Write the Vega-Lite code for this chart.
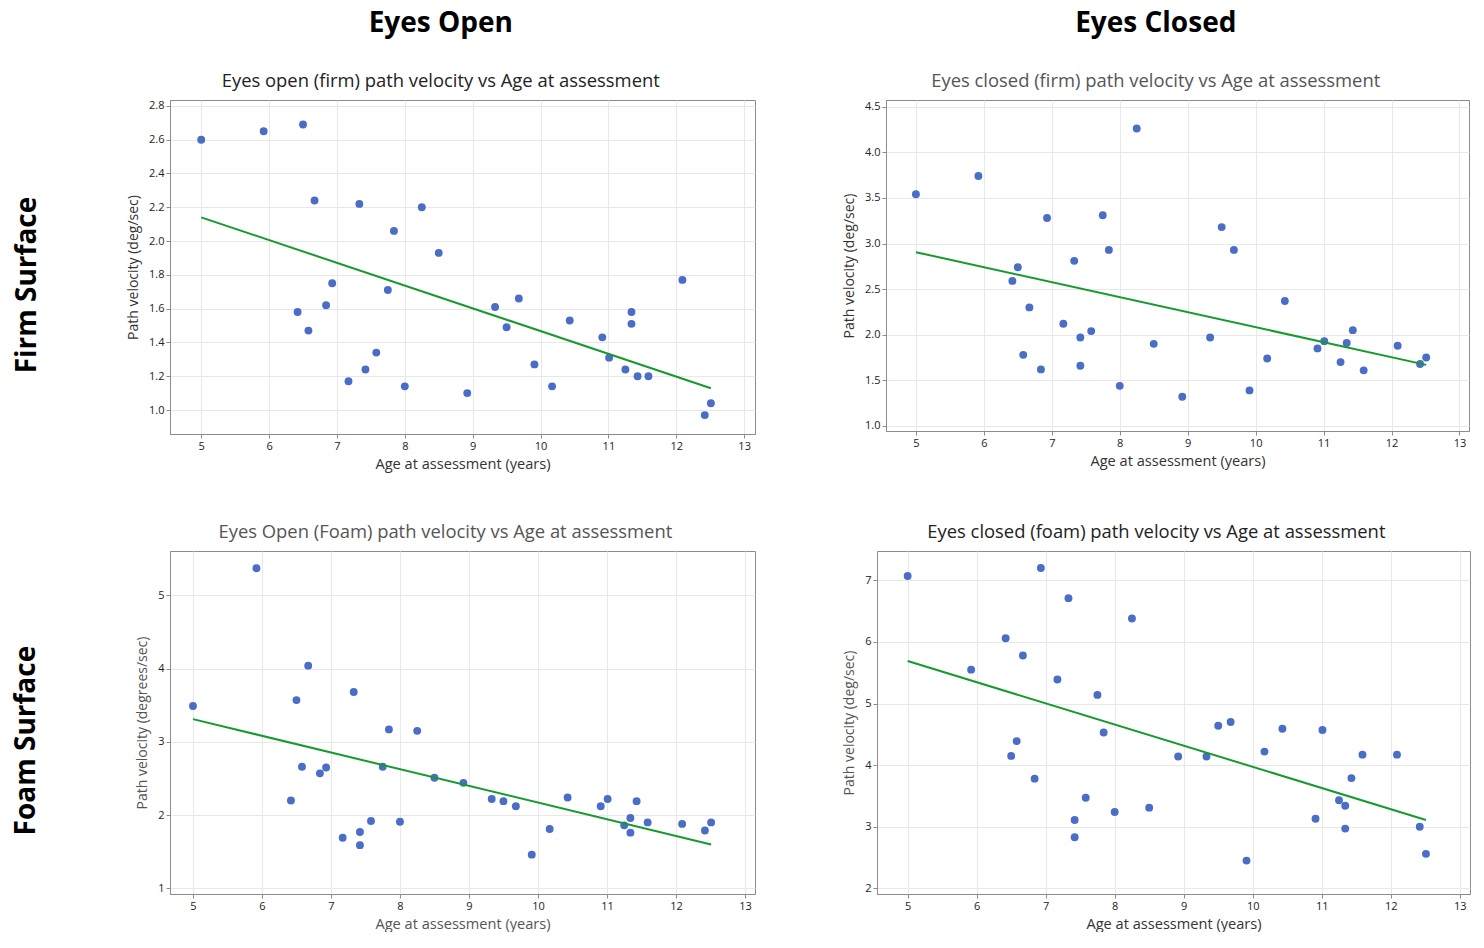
{
 "$schema": "https://vega.github.io/schema/vega-lite/v6.json",
 "background": "white",
 "padding": {"left": 13, "top": 9, "right": 5, "bottom": 0},
 "config": {
  "font": "Open Sans",
  "view": {"stroke": "#8c8c8c", "strokeWidth": 1},
  "axis": {"grid": true, "gridColor": "#e8e8e8", "domainColor": "#8c8c8c", "tickColor": "#8c8c8c", "tickSize": 4, "labelFontSize": 11, "labelColor": "#222222", "labelFont": "Open Sans", "titleFont": "Open Sans", "titleFontSize": 14, "titleFontWeight": "normal", "titleColor": "#333333", "labelPadding": 2, "labelOverlap": false},
  "axisX": {"titlePadding": 5, "titleFontSize": 14.6, "format": "d"},
  "axisY": {"titlePadding": 8}
 },
 "datasets": {
  "p1": [
   {"age": 5.0, "v": 2.60}, {"age": 5.92, "v": 2.65}, {"age": 6.42, "v": 1.58}, {"age": 6.50, "v": 2.69},
   {"age": 6.58, "v": 1.47}, {"age": 6.67, "v": 2.24}, {"age": 6.84, "v": 1.62}, {"age": 6.93, "v": 1.75},
   {"age": 7.17, "v": 1.17}, {"age": 7.33, "v": 2.22}, {"age": 7.42, "v": 1.24}, {"age": 7.58, "v": 1.34},
   {"age": 7.75, "v": 1.71}, {"age": 7.84, "v": 2.06}, {"age": 8.0, "v": 1.14}, {"age": 8.25, "v": 2.20},
   {"age": 8.50, "v": 1.93}, {"age": 8.92, "v": 1.10}, {"age": 9.33, "v": 1.61}, {"age": 9.50, "v": 1.49},
   {"age": 9.68, "v": 1.66}, {"age": 9.91, "v": 1.27}, {"age": 10.17, "v": 1.14}, {"age": 10.43, "v": 1.53},
   {"age": 10.91, "v": 1.43}, {"age": 11.01, "v": 1.31}, {"age": 11.25, "v": 1.24}, {"age": 11.34, "v": 1.58},
   {"age": 11.34, "v": 1.51}, {"age": 11.43, "v": 1.20}, {"age": 11.59, "v": 1.20}, {"age": 12.09, "v": 1.77},
   {"age": 12.42, "v": 0.97}, {"age": 12.51, "v": 1.04}
  ],
  "p2": [
   {"age": 5.0, "v": 3.54}, {"age": 5.92, "v": 3.74}, {"age": 6.42, "v": 2.59}, {"age": 6.50, "v": 2.74},
   {"age": 6.58, "v": 1.78}, {"age": 6.67, "v": 2.30}, {"age": 6.84, "v": 1.62}, {"age": 6.93, "v": 3.28},
   {"age": 7.17, "v": 2.12}, {"age": 7.33, "v": 2.81}, {"age": 7.42, "v": 1.97}, {"age": 7.42, "v": 1.66},
   {"age": 7.58, "v": 2.04}, {"age": 7.75, "v": 3.31}, {"age": 7.84, "v": 2.93}, {"age": 8.0, "v": 1.44},
   {"age": 8.25, "v": 4.26}, {"age": 8.50, "v": 1.90}, {"age": 8.92, "v": 1.32}, {"age": 9.33, "v": 1.97},
   {"age": 9.50, "v": 3.18}, {"age": 9.68, "v": 2.93}, {"age": 9.91, "v": 1.39}, {"age": 10.17, "v": 1.74},
   {"age": 10.43, "v": 2.37}, {"age": 10.91, "v": 1.85}, {"age": 11.01, "v": 1.93}, {"age": 11.25, "v": 1.70},
   {"age": 11.34, "v": 1.91}, {"age": 11.43, "v": 2.05}, {"age": 11.59, "v": 1.61}, {"age": 12.09, "v": 1.88},
   {"age": 12.42, "v": 1.68}, {"age": 12.51, "v": 1.75}
  ],
  "p3": [
   {"age": 5.0, "v": 3.49}, {"age": 5.92, "v": 5.37}, {"age": 6.42, "v": 2.20}, {"age": 6.50, "v": 3.57},
   {"age": 6.58, "v": 2.66}, {"age": 6.67, "v": 4.04}, {"age": 6.84, "v": 2.57}, {"age": 6.93, "v": 2.65},
   {"age": 7.17, "v": 1.69}, {"age": 7.33, "v": 3.68}, {"age": 7.42, "v": 1.77}, {"age": 7.42, "v": 1.59},
   {"age": 7.58, "v": 1.92}, {"age": 7.75, "v": 2.66}, {"age": 7.84, "v": 3.17}, {"age": 8.0, "v": 1.91},
   {"age": 8.25, "v": 3.15}, {"age": 8.50, "v": 2.51}, {"age": 8.92, "v": 2.44}, {"age": 9.33, "v": 2.22},
   {"age": 9.50, "v": 2.19}, {"age": 9.68, "v": 2.12}, {"age": 9.91, "v": 1.46}, {"age": 10.17, "v": 1.81},
   {"age": 10.43, "v": 2.24}, {"age": 10.91, "v": 2.12}, {"age": 11.01, "v": 2.22}, {"age": 11.25, "v": 1.86},
   {"age": 11.34, "v": 1.96}, {"age": 11.34, "v": 1.76}, {"age": 11.43, "v": 2.19}, {"age": 11.59, "v": 1.90},
   {"age": 12.09, "v": 1.88}, {"age": 12.42, "v": 1.79}, {"age": 12.51, "v": 1.90}
  ],
  "p4": [
   {"age": 5.0, "v": 7.07}, {"age": 5.92, "v": 5.55}, {"age": 6.42, "v": 6.06}, {"age": 6.50, "v": 4.15},
   {"age": 6.58, "v": 4.39}, {"age": 6.67, "v": 5.78}, {"age": 6.84, "v": 3.78}, {"age": 6.93, "v": 7.20},
   {"age": 7.17, "v": 5.39}, {"age": 7.33, "v": 6.71}, {"age": 7.42, "v": 3.11}, {"age": 7.42, "v": 2.83},
   {"age": 7.58, "v": 3.47}, {"age": 7.75, "v": 5.14}, {"age": 7.84, "v": 4.53}, {"age": 8.0, "v": 3.24},
   {"age": 8.25, "v": 6.38}, {"age": 8.50, "v": 3.31}, {"age": 8.92, "v": 4.14}, {"age": 9.33, "v": 4.14},
   {"age": 9.50, "v": 4.64}, {"age": 9.68, "v": 4.70}, {"age": 9.91, "v": 2.45}, {"age": 10.17, "v": 4.22},
   {"age": 10.43, "v": 4.59}, {"age": 10.91, "v": 3.13}, {"age": 11.01, "v": 4.57}, {"age": 11.25, "v": 3.43},
   {"age": 11.34, "v": 3.34}, {"age": 11.34, "v": 2.97}, {"age": 11.43, "v": 3.79}, {"age": 11.59, "v": 4.17},
   {"age": 12.09, "v": 4.17}, {"age": 12.42, "v": 3.00}, {"age": 12.51, "v": 2.56}
  ]
 },
 "columns": 1,
 "align": "none",
 "spacing": 50,
 "concat": [
  {
   "title": {"text": "Firm Surface", "orient": "left", "anchor": "middle", "fontSize": 28, "fontWeight": "bold", "color": "#000000", "offset": 84, "dy": 0, "dx": -45},
   "spacing": 86,
   "hconcat": [
    {
     "width": 585, "height": 334,
     "title": {"text": "Eyes Open", "subtitle": "Eyes open (firm) path velocity vs Age at assessment", "fontSize": 28, "fontWeight": "bold", "color": "#000000", "subtitleFontSize": 18.4, "subtitleColor": "#222222", "subtitleFont": "Open Sans", "subtitlePadding": 34, "frame": "bounds", "anchor": "middle", "offset": 10},
     "data": {"name": "p1"},
     "layer": [
      {"mark": {"type": "circle", "size": 62, "opacity": 1, "color": "#4A6DC5"},
       "encoding": {
        "x": {"field": "age", "type": "quantitative", "scale": {"domain": [4.54, 13.16], "nice": false, "zero": false}, "axis": {"values": [5, 6, 7, 8, 9, 10, 11, 12, 13], "title": "Age at assessment (years)"}},
        "y": {"field": "v", "type": "quantitative", "scale": {"domain": [0.858, 2.835], "nice": false, "zero": false}, "axis": {"values": [1.0, 1.2, 1.4, 1.6, 1.8, 2.0, 2.2, 2.4, 2.6, 2.8], "format": ".1f", "labelOverlap": false, "tickCount": 10, "title": "Path velocity (deg/sec)"}}
       }},
      {"mark": {"type": "line", "color": "#169A2E", "strokeWidth": 2},
       "transform": [{"regression": "v", "on": "age"}],
       "encoding": {"x": {"field": "age", "type": "quantitative"}, "y": {"field": "v", "type": "quantitative"}}}
     ]
    },
    {
     "width": 583, "height": 331,
     "title": {"text": "Eyes Closed", "subtitle": "Eyes closed (firm) path velocity vs Age at assessment", "fontSize": 28, "fontWeight": "bold", "color": "#000000", "subtitleFontSize": 18.4, "subtitleColor": "#555555", "subtitleFont": "Open Sans", "subtitlePadding": 34, "frame": "bounds", "anchor": "middle", "offset": 10},
     "data": {"name": "p2"},
     "layer": [
      {"mark": {"type": "circle", "size": 62, "opacity": 1, "color": "#4A6DC5"},
       "encoding": {
        "x": {"field": "age", "type": "quantitative", "scale": {"domain": [4.56, 13.14], "nice": false, "zero": false}, "axis": {"values": [5, 6, 7, 8, 9, 10, 11, 12, 13], "title": "Age at assessment (years)"}},
        "y": {"field": "v", "type": "quantitative", "scale": {"domain": [0.945, 4.573], "nice": false, "zero": false}, "axis": {"values": [1.0, 1.5, 2.0, 2.5, 3.0, 3.5, 4.0, 4.5], "format": ".1f", "title": "Path velocity (deg/sec)"}}
       }},
      {"mark": {"type": "line", "color": "#169A2E", "strokeWidth": 2},
       "transform": [{"regression": "v", "on": "age"}],
       "encoding": {"x": {"field": "age", "type": "quantitative"}, "y": {"field": "v", "type": "quantitative"}}}
     ]
    }
   ]
  },
  {
   "title": {"text": "Foam Surface", "orient": "left", "anchor": "middle", "fontSize": 28, "fontWeight": "bold", "color": "#000000", "offset": 84, "dy": -10, "dx": -14},
   "spacing": 86,
   "hconcat": [
    {
     "width": 585, "height": 343,
     "title": {"text": "Eyes Open (Foam) path velocity vs Age at assessment", "fontSize": 18.4, "fontWeight": "normal", "color": "#555555", "frame": "bounds", "anchor": "middle", "offset": 10},
     "data": {"name": "p3"},
     "layer": [
      {"mark": {"type": "circle", "size": 62, "opacity": 1, "color": "#4A6DC5"},
       "encoding": {
        "x": {"field": "age", "type": "quantitative", "scale": {"domain": [4.667, 13.146], "nice": false, "zero": false}, "axis": {"values": [5, 6, 7, 8, 9, 10, 11, 12, 13], "title": "Age at assessment (years)", "titleColor": "#555555"}},
        "y": {"field": "v", "type": "quantitative", "scale": {"domain": [0.923, 5.605], "nice": false, "zero": false}, "axis": {"values": [1, 2, 3, 4, 5], "format": "d", "title": "Path velocity (degrees/sec)", "titleColor": "#555555"}}
       }},
      {"mark": {"type": "line", "color": "#169A2E", "strokeWidth": 2},
       "transform": [{"regression": "v", "on": "age"}],
       "encoding": {"x": {"field": "age", "type": "quantitative"}, "y": {"field": "v", "type": "quantitative"}}}
     ]
    },
    {
     "width": 593, "height": 343,
     "title": {"text": "Eyes closed (foam) path velocity vs Age at assessment", "fontSize": 18.4, "fontWeight": "normal", "color": "#222222", "frame": "bounds", "anchor": "middle", "offset": 10},
     "data": {"name": "p4"},
     "layer": [
      {"mark": {"type": "circle", "size": 62, "opacity": 1, "color": "#4A6DC5"},
       "encoding": {
        "x": {"field": "age", "type": "quantitative", "scale": {"domain": [4.556, 13.148], "nice": false, "zero": false}, "axis": {"values": [5, 6, 7, 8, 9, 10, 11, 12, 13], "title": "Age at assessment (years)"}},
        "y": {"field": "v", "type": "quantitative", "scale": {"domain": [1.908, 7.476], "nice": false, "zero": false}, "axis": {"values": [2, 3, 4, 5, 6, 7], "format": "d", "title": "Path velocity (deg/sec)", "titleColor": "#555555"}}
       }},
      {"mark": {"type": "line", "color": "#169A2E", "strokeWidth": 2},
       "transform": [{"regression": "v", "on": "age"}],
       "encoding": {"x": {"field": "age", "type": "quantitative"}, "y": {"field": "v", "type": "quantitative"}}}
     ]
    }
   ]
  }
 ]
}
